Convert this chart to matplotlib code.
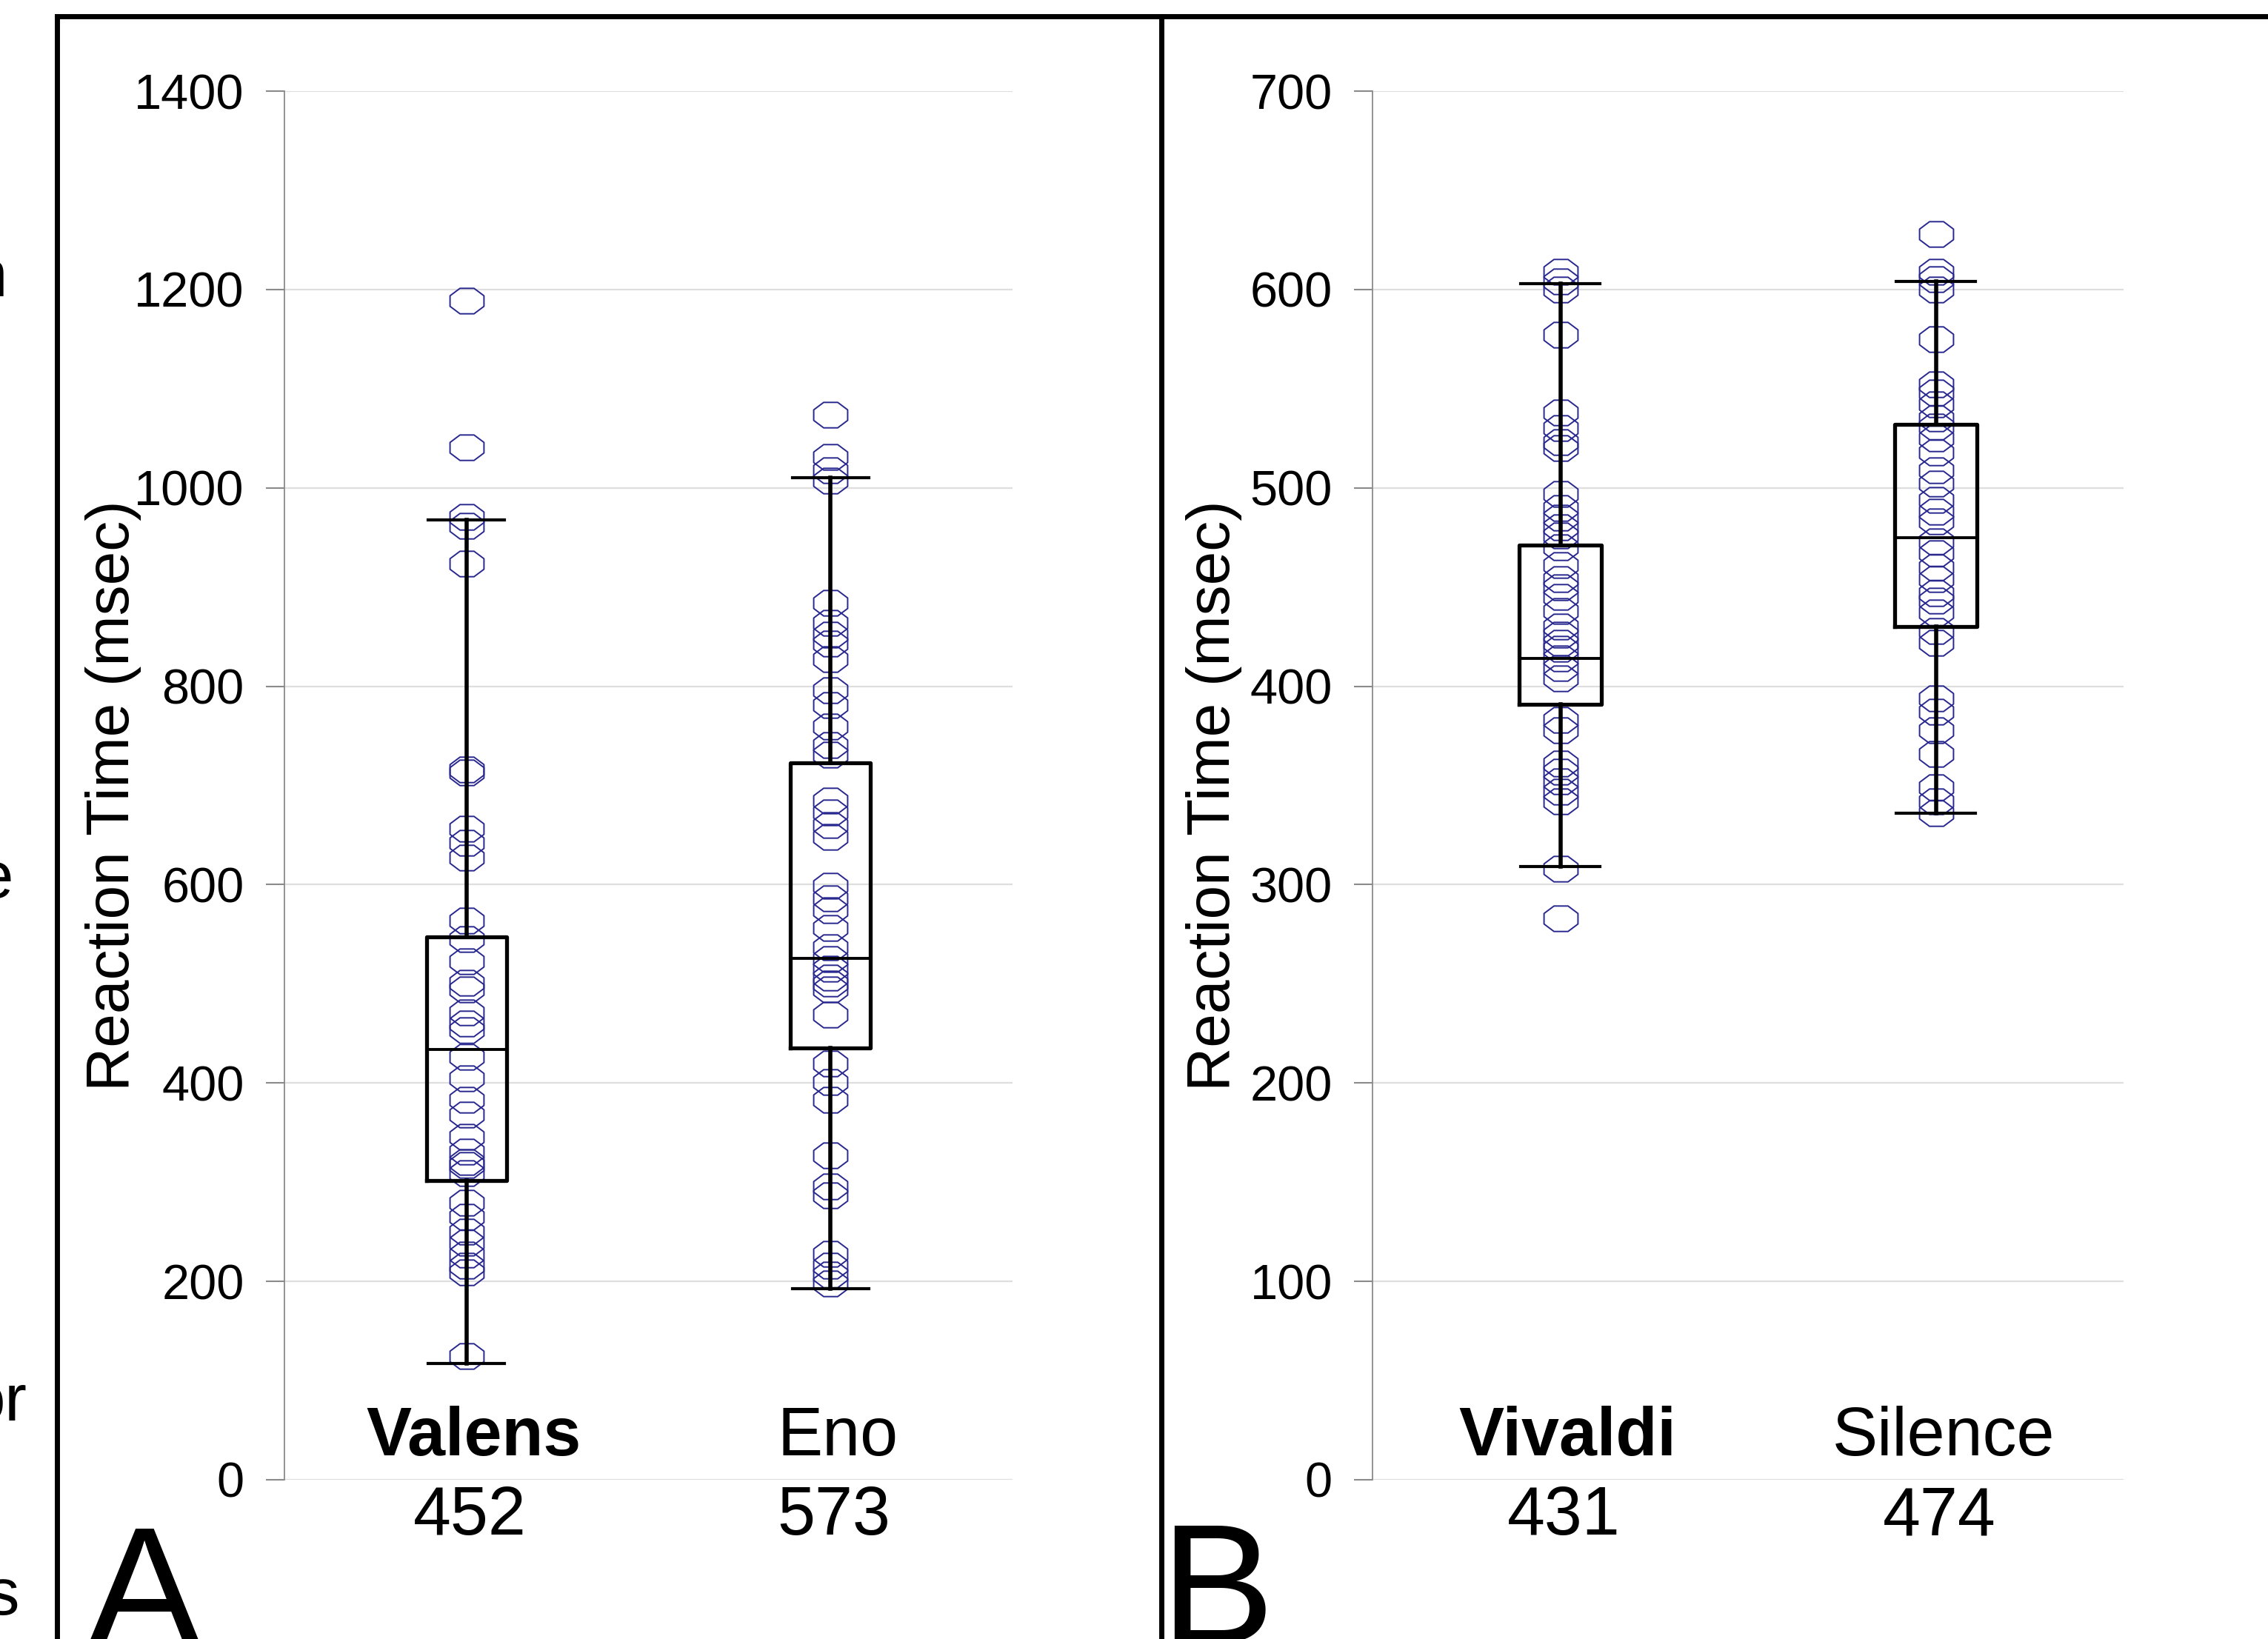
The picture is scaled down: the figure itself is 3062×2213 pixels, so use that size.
import numpy as np
import matplotlib
matplotlib.use("Agg")
import matplotlib.pyplot as plt
from matplotlib.path import Path
from matplotlib.lines import Line2D

plt.rcParams['font.family'] = ['Liberation Sans', 'DejaVu Sans']

# ---------------- data ----------------
cats_a = ["Valens", "Eno"]
means_a = ["452", "573"]
valens = [1189, 1041, 971, 962, 924, 716, 713, 656, 642, 627, 564, 545, 523, 501,
          494, 471, 460, 453, 426, 405, 383, 368, 346, 331, 320, 317, 309, 279,
          265, 250, 239, 227, 216, 209, 125]
eno = [1074, 1031, 1018, 1007, 884, 864, 852, 843, 827, 796, 781, 759, 741, 731,
       685, 673, 660, 648, 599, 586, 574, 556, 537, 525, 515, 506, 500, 494, 469,
       420, 401, 383, 327, 296, 287, 228, 216, 207, 198]
# box stats: whislo, q1, med, q3, whishi
box_valens = [117, 302, 434, 547, 968]
box_eno = [193, 435, 526, 723, 1010]

cats_b = ["Vivaldi", "Silence"]
means_b = ["431", "474"]
vivaldi = [609, 604, 600, 577, 538, 530, 523, 520, 497, 490, 485, 480, 476, 470,
           461, 454, 450, 445, 438, 430, 426, 422, 419, 414, 409, 404, 383, 378,
           361, 357, 352, 347, 342, 308, 283]
silence = [628, 609, 605, 600, 575, 552, 548, 542, 535, 531, 525, 518, 509, 502,
           494, 488, 483, 473, 467, 460, 454, 447, 443, 437, 428, 422, 394, 387,
           378, 366, 349, 342, 336]
box_vivaldi = [309, 391, 414, 471, 603]
box_silence = [336, 430, 475, 532, 604]

yticks_a = [0, 200, 400, 600, 800, 1000, 1200, 1400]
yticks_b = [0, 100, 200, 300, 400, 500, 600, 700]

# ---------------- figure ----------------
W, H = 3062, 2213
fig = plt.figure(figsize=(W / 100, H / 100), dpi=100)

# octagon marker, wider than tall
ang = np.deg2rad(22.5 + 45 * np.arange(8))
verts = np.column_stack([np.cos(ang), 0.75 * np.sin(ang)])
verts = np.vstack([verts, verts[0]])
octo = Path(verts, [Path.MOVETO] + [Path.LINETO] * 7 + [Path.CLOSEPOLY])

def fx(px):
    return px / W

def fy(py):
    return 1 - py / H

bottom = fy(1998)
top = fy(123)

def panel(left_px, right_px, cats, means, series, boxes, yticks, ymax):
    ax = fig.add_axes([fx(left_px), bottom, fx(right_px) - fx(left_px), top - bottom])
    ax.set_xlim(-0.5, 1.5)
    ax.set_ylim(0, ymax)
    ax.set_facecolor('none')
    for s in ['top', 'right', 'bottom']:
        ax.spines[s].set_visible(False)
    ax.spines['left'].set_color('#8a8a8a')
    ax.spines['left'].set_linewidth(1.3)
    ax.set_yticks(yticks)
    ax.set_yticklabels([str(t) for t in yticks])
    ax.tick_params(axis='y', direction='out', length=18, width=1.5, color='#8a8a8a',
                   labelsize=48, pad=21)
    ax.tick_params(axis='x', bottom=False, labelbottom=False)
    for t in yticks:
        ax.axhline(t, color='#dedede', lw=1.6, zorder=0)
    for i, vals in enumerate(series):
        ax.plot([i] * len(vals), vals, linestyle='none', marker=octo, markersize=33,
                markerfacecolor='none', markeredgecolor='#28288f', markeredgewidth=1.4,
                zorder=2)
    stats = []
    for b in boxes:
        stats.append(dict(whislo=b[0], q1=b[1], med=b[2], q3=b[3], whishi=b[4], fliers=[]))
    ax.bxp(stats, positions=[0, 1], widths=0.22, capwidths=0.21, showfliers=False,
           boxprops=dict(color='black', lw=3.8),
           whiskerprops=dict(color='black', lw=4.0),
           capprops=dict(color='black', lw=3.0),
           medianprops=dict(color='black', lw=2.8),
           manage_ticks=False, zorder=3)
    tr = ax.get_xaxis_transform()
    for i, (c, m) in enumerate(zip(cats, means)):
        ax.text(i + 0.02, 0.0176, c, transform=tr, ha='center', va='baseline', fontsize=66,
                fontweight='bold' if i == 0 else 'normal')
        ax.text(i + 0.01, -0.0395, m, transform=tr, ha='center', va='baseline', fontsize=66,
                clip_on=False)
    return ax

axA = panel(384, 1367, cats_a, means_a, [valens, eno], [box_valens, box_eno], yticks_a, 1400)
axB = panel(1853, 2867, cats_b, means_b, [vivaldi, silence], [box_vivaldi, box_silence], yticks_b, 700)

fig.text(fx(153), fy(1074), "Reaction Time (msec)", rotation=90, ha='center', va='center',
         fontsize=59)
fig.text(fx(1639), fy(1074), "Reaction Time (msec)", rotation=90, ha='center', va='center',
         fontsize=59)

# panel letters
fig.text(fx(118), fy(2222), "A", fontsize=166, ha='left', va='baseline')
fig.text(fx(1566), fy(2218), "B", fontsize=166, ha='left', va='baseline')

# clipped caption fragments at the far left
for txt, xr, yb in [("n", 10, 400), ("e", 18, 1212), ("or", 36, 1918), ("s", 26, 2180)]:
    fig.text(fx(xr), fy(yb), txt, fontsize=64, ha='right', va='baseline')

# frame lines
lw = 5.0
fig.add_artist(Line2D([fx(77), 1.0], [fy(22), fy(22)], color='black', lw=lw,
                      solid_capstyle='projecting'))
fig.add_artist(Line2D([fx(77), fx(77)], [0, fy(22)], color='black', lw=lw,
                      solid_capstyle='projecting'))
fig.add_artist(Line2D([fx(1568), fx(1568)], [0, fy(22)], color='black', lw=lw,
                      solid_capstyle='projecting'))

fig.savefig("out.png", dpi=100, facecolor='white')
